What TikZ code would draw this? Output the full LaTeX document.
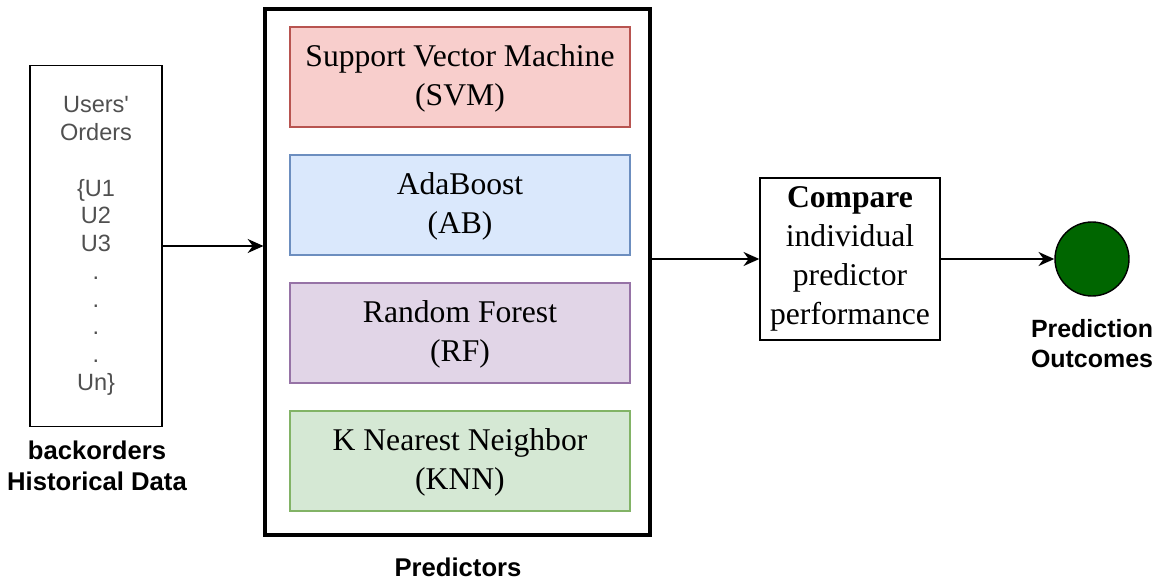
\documentclass[tikz,border=0pt]{standalone}
\usepackage{fontspec}
\setmainfont{Liberation Serif}
\newfontfamily\arialfont{Liberation Sans}
\usetikzlibrary{arrows.meta, calc}

\definecolor{svmfill}{HTML}{F8CECC}
\definecolor{svmline}{HTML}{B85450}
\definecolor{abfill}{HTML}{DAE8FC}
\definecolor{abline}{HTML}{6C8EBF}
\definecolor{rffill}{HTML}{E1D5E7}
\definecolor{rfline}{HTML}{9673A6}
\definecolor{knnfill}{HTML}{D5E8D4}
\definecolor{knnline}{HTML}{82B366}
\definecolor{usertext}{HTML}{505050}
\definecolor{outgreen}{HTML}{006600}

\begin{document}
\begin{tikzpicture}[x=0.02cm, y=-0.02cm,
	model/.style={draw, line width=0.7pt, minimum width=6.8cm, minimum height=2cm, inner sep=0pt, align=center, font=\fontsize{18}{22}\selectfont},
	caption/.style={align=center, font=\arialfont\bfseries\fontsize{14.6}{17.5}\selectfont},
	arr/.style={-{Stealth[length=9pt, width=8pt]}, line width=1pt}]
			\useasboundingbox (0,0) rectangle (1161,581);
			\coordinate (O) at (96,246);
			\coordinate (P) at (457.5,272);
			\coordinate (C) at (850,259);
			\coordinate (R) at (1092,259);
			
			\node[draw, line width=0.9pt, minimum width=2.64cm, minimum height=7.22cm, inner sep=0pt, align=center, text=usertext, font=\arialfont\fontsize{13.4}{15.8}\selectfont] (orders) at (O) {Users'\\Orders\\[15.8pt]\{U1\\U2\\U3\\.\\.\\.\\.\\Un\}};
			\node[caption] (hist) at (97,466) {backorders\\Historical Data};
			
			\node[draw, line width=1.8pt, minimum width=7.7cm, minimum height=10.52cm, inner sep=0pt] (pred) at (P) {};
			\node[model, fill=svmfill, draw=svmline] (svm) at (460,77) {\rule{0pt}{14pt}Support Vector Machine\\(SVM)};
			\node[model, fill=abfill, draw=abline] (ab) at (460,205) {\rule{0pt}{14pt}AdaBoost\\(AB)};
			\node[model, fill=rffill, draw=rfline] (rf) at (460,333) {\rule{0pt}{14pt}Random Forest\\(RF)};
			\node[model, fill=knnfill, draw=knnline] (knn) at (460,461) {\rule{0pt}{14pt}K Nearest Neighbor\\(KNN)};
			\node[caption] (predlbl) at (458,567) {Predictors};
			
			\node[draw, line width=0.8pt, minimum width=3.6cm, minimum height=3.24cm, inner sep=0pt, align=center, font=\fontsize{18}{22.3}\selectfont] (compare) at (C) {\textbf{Compare}\\individual\\predictor\\performance};
			\node[circle, draw, line width=0.8pt, fill=outgreen, minimum size=1.48cm, inner sep=0pt] (out) at (R) {};
			\node[caption, font=\arialfont\bfseries\fontsize{14.2}{17}\selectfont] (outlbl) at (1092,344) {Prediction\\Outcomes};
			
			\draw[arr] (orders.east) -- (orders.east -| pred.west);
			\draw[arr] (compare.west -| pred.east) -- (compare.west);
			\draw[arr] (compare.east) -- (out.west);
			\end{tikzpicture}
\end{document}
